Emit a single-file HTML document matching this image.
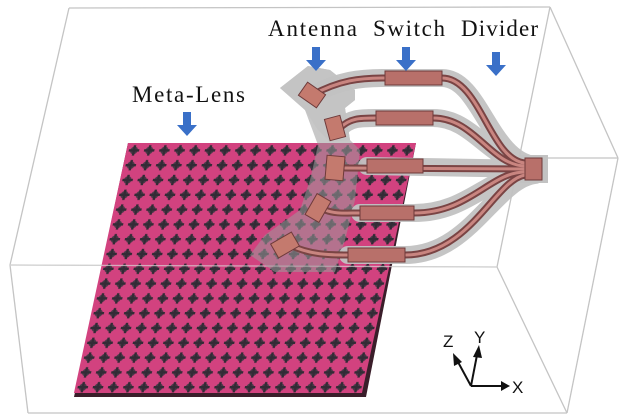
<!DOCTYPE html>
<html><head><meta charset="utf-8"><style>
html,body{margin:0;padding:0;background:#fff;}
svg{display:block;}
text{font-family:"Liberation Serif",serif;}
</style></head><body>
<svg width="627" height="420" viewBox="0 0 627 420" xmlns="http://www.w3.org/2000/svg">
<defs>
<pattern id="cr" patternUnits="userSpaceOnUse" width="15.2" height="14.8">
<rect width="15.2" height="14.8" fill="#d2427f"/>
<circle cx="7.6" cy="7.4" r="3.8" fill="#4a3a48"/>
<rect x="2.4" y="6.2" width="10.4" height="2.4" fill="#332b36"/>
<rect x="6.4" y="2.2" width="2.4" height="10.4" fill="#332b36"/>
</pattern>
</defs>
<g stroke="#c4c4c4" stroke-width="1.3" fill="none">
<line x1="69" y1="8" x2="550" y2="7"/>
<line x1="69" y1="8" x2="10" y2="265"/>
<line x1="550" y1="7" x2="618" y2="158"/>
<line x1="550" y1="7" x2="497" y2="267"/>
<line x1="10" y1="265" x2="497" y2="267"/>
<line x1="516" y1="158" x2="618" y2="158"/>
<line x1="10" y1="265" x2="28" y2="413"/>
<line x1="28" y1="413" x2="567" y2="413"/>
<line x1="497" y1="267" x2="567" y2="413"/>
<line x1="618" y1="158" x2="567" y2="413"/>
</g>
<!-- lens -->
<polygon points="128,143 416,143 366,397 74,397" fill="#3a1e2a"/>
<g transform="translate(128,143) skewX(-12.2)">
<rect x="0" y="0" width="288" height="250" fill="url(#cr)"/>
</g>
<line x1="10" y1="265" x2="497" y2="267" stroke="#d8d8d8" stroke-width="1.2" opacity="0.7"/>
<!-- gray backdrop -->
<polygon points="280,88 308,66 330,70 355,90 355,100 345,108 350,140 360,150 355,200 345,240 335,272 275,272 250,255 265,235 300,210 310,180 318,145 305,110" fill="#9a9a9a" opacity="0.55"/>
<polygon points="280,88 308,66 330,70 355,90 355,100 345,108 350,140 330,142 318,130 305,110" fill="#c4c4c4"/>
<g stroke="#c2c2c2" stroke-width="18" fill="none" stroke-linecap="round" opacity="0.95">
<path d="M312,95 C340,80 360,78 385,78 L442,78 C480,78 490,160 535,165"/>
<path d="M340,128 C350,118 360,118 376,118 L433,118 C475,118 490,165 535,166"/>
<path d="M367,166 L535,169"/>
<path d="M360,213 L414,213 C470,213 490,172 535,172"/>
<path d="M348,255 L405,255 C470,255 495,180 535,175"/>
</g>
<rect x="520" y="155" width="28" height="28" fill="#c2c2c2"/>
<!-- traces -->
<g fill="none" stroke-linecap="round">
<g stroke="#7a4444" stroke-width="7">
<path d="M312,95 C340,80 360,78 385,78 L442,78 C480,78 490,160 525,163"/>
<path d="M340,128 C350,118 360,118 376,118 L433,118 C475,118 490,165 525,166"/>
<path d="M345,168 L525,169"/>
<path d="M325,210 C335,214 345,213 360,213 L414,213 C470,213 490,172 525,172"/>
<path d="M290,245 C310,255 330,255 348,255 L405,255 C470,255 495,180 525,175"/>
</g>
<g stroke="#c98580" stroke-width="3">
<path d="M312,95 C340,80 360,78 385,78 L442,78 C480,78 490,160 525,163"/>
<path d="M340,128 C350,118 360,118 376,118 L433,118 C475,118 490,165 525,166"/>
<path d="M345,168 L525,169"/>
<path d="M325,210 C335,214 345,213 360,213 L414,213 C470,213 490,172 525,172"/>
<path d="M290,245 C310,255 330,255 348,255 L405,255 C470,255 495,180 525,175"/>
</g>
</g>
<!-- switches -->
<g fill="#b8706a" stroke="#6e3a3a" stroke-width="1">
<rect x="385" y="71" width="57" height="14"/>
<rect x="376" y="111" width="57" height="14"/>
<rect x="367" y="159" width="56" height="14"/>
<rect x="360" y="206" width="54" height="14"/>
<rect x="348" y="248" width="57" height="14"/>
<rect x="525" y="158" width="17" height="22"/>
</g>
<!-- antennas -->
<g fill="#c47a6e" stroke="#6e3a3a" stroke-width="1">
<rect x="-11" y="-8" width="22" height="16" transform="translate(312,95) rotate(35)"/>
<rect x="-8" y="-11" width="16" height="22" transform="translate(335,128) rotate(-15)"/>
<rect x="-9" y="-12" width="18" height="24" transform="translate(335,168) rotate(5)"/>
<rect x="-8" y="-12" width="16" height="24" transform="translate(318,208) rotate(30)"/>
<rect x="-12" y="-8" width="24" height="16" transform="translate(285,245) rotate(-30)"/>
</g>
<!-- labels -->
<g font-size="23" fill="#111">
<text x="268" y="36" textLength="89">Antenna</text>
<text x="373" y="36" textLength="72">Switch</text>
<text x="461" y="36" textLength="77">Divider</text>
<text x="132" y="102" textLength="113">Meta-Lens</text>
</g>
<!-- arrows -->
<g fill="#3a70c8">
<path d="M312,47 h8 v13 h6 l-10,11 l-10,-11 h6z"/>
<path d="M402,47 h8 v13 h6 l-10,11 l-10,-11 h6z"/>
<path d="M492,52 h8 v13 h6 l-10,11 l-10,-11 h6z"/>
<path d="M183,112 h8 v13 h6 l-10,11 l-10,-11 h6z"/>
</g>
<!-- axes -->
<g stroke="#111" stroke-width="2" fill="none">
<line x1="471" y1="386" x2="503" y2="386"/>
<line x1="471" y1="386" x2="477" y2="355"/>
<line x1="471" y1="386" x2="458" y2="362"/>
</g>
<g fill="#111">
<polygon points="510,386 501,381 501,391"/>
<polygon points="479,345 473,357 482,358"/>
<polygon points="453,353 454,366 462,362"/>
</g>
<g font-size="17" fill="#111">
<text x="512" y="393" style="font-family:'Liberation Sans',sans-serif">X</text>
<text x="474" y="343" style="font-family:'Liberation Sans',sans-serif">Y</text>
<text x="443" y="347" style="font-family:'Liberation Sans',sans-serif">Z</text>
</g>
</svg>
</body></html>
